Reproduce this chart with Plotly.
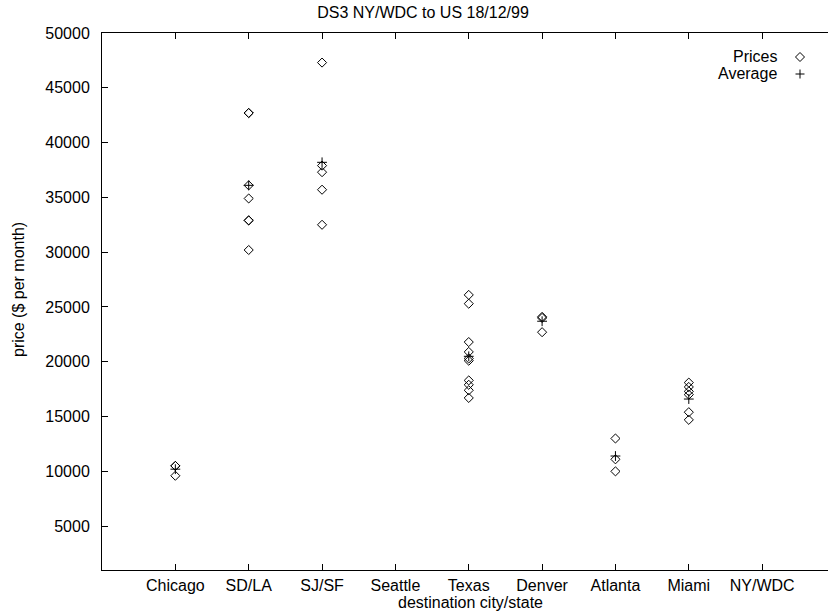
import plotly.graph_objects as go

categories = ["Chicago", "SD/LA", "SJ/SF", "Seattle", "Texas", "Denver", "Atlanta", "Miami", "NY/WDC"]

prices = {
    "Chicago": [10500, 10500, 9600],
    "SD/LA": [42700, 42700, 36100, 34900, 32900, 32900, 30200],
    "SJ/SF": [47300, 37900, 37300, 35700, 32500],
    "Seattle": [],
    "Texas": [26100, 25300, 21800, 20900, 20300, 20100, 18300, 17900, 17400, 16700],
    "Denver": [24100, 24000, 22700],
    "Atlanta": [13000, 11100, 10000],
    "Miami": [18100, 17700, 17300, 17000, 15400, 14700],
    "NY/WDC": [],
}

averages = [10200, 36100, 38200, None, 20500, 23700, 11400, 16600, None]

y_ticks = [5000, 10000, 15000, 20000, 25000, 30000, 35000, 40000, 45000, 50000]

title_text = "DS3 NY/WDC to US 18/12/99"
x_title = "destination city/state"
y_title = "price ($ per month)"

FONT = "Liberation Sans, Arial, Helvetica, sans-serif"
FS = 16

px_x, px_y = [], []
for i, c in enumerate(categories):
    for v in prices[c]:
        px_x.append(i + 1)
        px_y.append(v)

avg_x = [i + 1 for i, a in enumerate(averages) if a is not None]
avg_y = [a for a in averages if a is not None]

fig = go.Figure()
fig.add_trace(go.Scatter(
    x=px_x, y=px_y, mode="markers", name="Prices",
    marker=dict(symbol="diamond-open", size=7, color="black", line=dict(width=1, color="black")),
))
fig.add_trace(go.Scatter(
    x=avg_x, y=avg_y, mode="markers", name="Average",
    marker=dict(symbol="cross-thin-open", size=7, color="black", line=dict(width=1, color="black")),
))

W, H = 828, 614
ml, mt = 102, 33
plot_bottom = 570
mr, mb = 0, H - plot_bottom
pw, ph = W - ml - mr, H - mt - mb

def paper_x(sx):
    return (sx - ml) / pw

def paper_y(sy):
    return 1 - (sy - mt) / ph

fig.update_layout(
    template="none",
    width=W, height=H,
    margin=dict(l=ml, r=mr, t=mt, b=mb, pad=0, autoexpand=False),
    paper_bgcolor="white", plot_bgcolor="white",
    font=dict(family=FONT, size=FS, color="black"),
    showlegend=False,
    title=dict(text=title_text, x=423 / W, xanchor="center", xref="container",
               y=1 - 12 / H, yanchor="middle", font=dict(family=FONT, size=FS, color="black")),
    xaxis=dict(
        range=[0, pw / 73.35], automargin=False,
        tickmode="array", tickvals=list(range(1, len(categories) + 1)), ticktext=categories,
        ticks="inside", ticklen=6, tickcolor="black", tickwidth=1,
        showline=True, linecolor="black", linewidth=1, mirror="ticks",
        showgrid=False, zeroline=False,
        tickfont=dict(family=FONT, size=FS),
        ticklabelstandoff=1,
    ),
    yaxis=dict(
        range=[1000, 50000], automargin=False,
        tickmode="array", tickvals=y_ticks, ticktext=[str(v) for v in y_ticks],
        ticks="inside", ticklen=6, tickcolor="black", tickwidth=1,
        showline=True, linecolor="black", linewidth=1, mirror=False,
        showgrid=False, zeroline=False,
        tickfont=dict(family=FONT, size=FS),
        ticklabelstandoff=8,
    ),
)

# axis titles
fig.add_annotation(text=x_title, xref="paper", yref="paper",
                   x=paper_x(470), y=paper_y(602), xanchor="center", yanchor="middle",
                   showarrow=False, font=dict(family=FONT, size=FS, color="black"))
fig.add_annotation(text=y_title, xref="paper", yref="paper",
                   x=paper_x(18), y=paper_y(290), xanchor="center", yanchor="middle",
                   textangle=-90, showarrow=False, font=dict(family=FONT, size=FS, color="black"))

# gnuplot-style key: text right-aligned, sample symbol to its right
key_text_right = 779
key_sym_x = 800
key_rows = [("Prices", 57, "diamond"), ("Average", 74, "plus")]
for label, ypix, sym in key_rows:
    fig.add_annotation(
        text=label, xref="paper", yref="paper",
        x=paper_x(key_text_right), y=paper_y(ypix),
        xanchor="right", yanchor="middle", showarrow=False,
        font=dict(family=FONT, size=FS, color="black"),
    )
    if sym == "diamond":
        path = "M -4.5 0 L 0 4.5 L 4.5 0 L 0 -4.5 Z"
    else:
        path = "M -4.5 0 L 4.5 0 M 0 -4.5 L 0 4.5"
    fig.add_shape(
        type="path", xref="paper", yref="paper",
        xsizemode="pixel", ysizemode="pixel",
        xanchor=paper_x(key_sym_x), yanchor=paper_y(ypix),
        path=path, line=dict(color="black", width=1),
    )

fig.write_html(
    "out.html",
    config={"displayModeBar": False},
    post_script="document.body.style.margin='0';document.body.style.padding='0';",
)
